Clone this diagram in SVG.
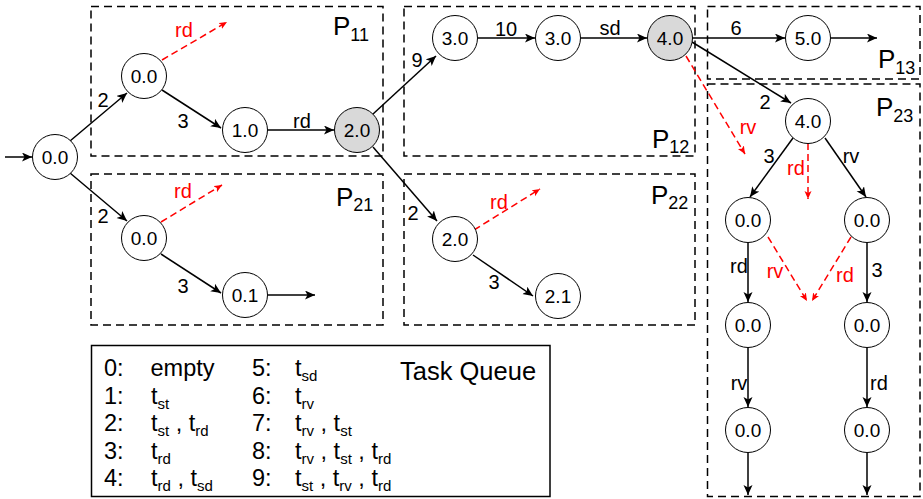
<svg xmlns="http://www.w3.org/2000/svg" width="923" height="499" viewBox="0 0 923 499">
<defs>
<marker id="ab" markerUnits="userSpaceOnUse" markerWidth="12" markerHeight="10" refX="10" refY="4.5" orient="auto">
<path d="M0,0 L10,4.5 L0,9 L2.5,4.5 Z" fill="#000"/>
</marker>
<marker id="ar" markerUnits="userSpaceOnUse" markerWidth="10" markerHeight="8" refX="8" refY="3.5" orient="auto">
<path d="M0,0 L8,3.5 L0,7 L2,3.5 Z" fill="#f00"/>
</marker>
<style>
text{font-family:"Liberation Sans",Arial,sans-serif;}
.box{fill:none;stroke:#000;stroke-width:1.5;stroke-dasharray:8 5;}
.nd circle{fill:#fff;stroke:#000;stroke-width:1;}
.nd.g circle{fill:#d9d9d9;}
.nd text{font-size:19px;text-anchor:middle;fill:#000;}
.e{stroke:#000;stroke-width:1.5;fill:none;marker-end:url(#ab);}
.r{stroke:#f00;stroke-width:1.5;fill:none;stroke-dasharray:7 4;marker-end:url(#ar);}
.lb{font-size:20px;text-anchor:middle;fill:#000;}
.lr{font-size:20px;text-anchor:middle;fill:#f00;}
.pl{font-size:26px;fill:#000;}
.ps{font-size:18px;}
.q{font-size:23.5px;fill:#000;}
.sub{font-size:15px;}
</style>
</defs>
<rect width="923" height="499" fill="#fff"/>

<g id="partitions">
<rect class="box" x="91" y="6.5" width="292" height="149.5"/>
<rect class="box" x="91" y="174" width="292" height="151"/>
<rect class="box" x="404" y="6.5" width="291" height="149.5"/>
<rect class="box" x="404" y="174" width="291" height="151"/>
<rect class="box" x="707.5" y="6.5" width="212.5" height="72.5"/>
<rect class="box" x="707.5" y="84" width="212.5" height="412.5"/>
<text class="pl" x="333" y="35">P<tspan class="ps" dy="6">11</tspan></text>
<text class="pl" x="336" y="206">P<tspan class="ps" dy="5">21</tspan></text>
<text class="pl" x="652" y="148">P<tspan class="ps" dy="5">12</tspan></text>
<text class="pl" x="651" y="204">P<tspan class="ps" dy="5">22</tspan></text>
<text class="pl" x="878" y="68">P<tspan class="ps" dy="6">13</tspan></text>
<text class="pl" x="876" y="116">P<tspan class="ps" dy="6">23</tspan></text>
</g>

<g id="connectors">
<line class="e" x1="5" y1="157" x2="32" y2="157"/>
<line class="e" x1="70" y1="141" x2="127" y2="93"/>
<line class="e" x1="70" y1="173" x2="127" y2="221"/>
<line class="e" x1="162" y1="90" x2="221" y2="128"/>
<line class="e" x1="268" y1="130" x2="334" y2="130"/>
<line class="e" x1="373" y1="114" x2="436" y2="56"/>
<line class="e" x1="373" y1="147" x2="437" y2="221"/>
<line class="e" x1="478" y1="38" x2="535" y2="38"/>
<line class="e" x1="581" y1="38" x2="647" y2="38"/>
<line class="e" x1="692" y1="38" x2="785" y2="38"/>
<line class="e" x1="831" y1="38" x2="877" y2="38"/>
<line class="e" x1="692" y1="42" x2="791" y2="103"/>
<line class="e" x1="793" y1="138" x2="750" y2="197"/>
<line class="e" x1="825" y1="138" x2="866" y2="197"/>
<line class="e" x1="748" y1="242.5" x2="748" y2="302"/>
<line class="e" x1="867" y1="242.5" x2="867" y2="302"/>
<line class="e" x1="748" y1="347.5" x2="748" y2="407"/>
<line class="e" x1="867" y1="347.5" x2="867" y2="407"/>
<line class="e" x1="748" y1="452.5" x2="748" y2="495"/>
<line class="e" x1="867" y1="452.5" x2="867" y2="495"/>
<line class="e" x1="161" y1="254" x2="221" y2="293"/>
<line class="e" x1="268" y1="295" x2="315" y2="295"/>
<line class="e" x1="473" y1="255" x2="533" y2="296"/>
<line class="r" x1="162" y1="60" x2="227" y2="22"/>
<line class="r" x1="161" y1="222" x2="222" y2="185"/>
<line class="r" x1="474" y1="230" x2="540" y2="189"/>
<line class="r" x1="686" y1="56" x2="745" y2="154"/>
<line class="r" x1="808" y1="143" x2="808" y2="199"/>
<line class="r" x1="768" y1="237" x2="807" y2="301"/>
<line class="r" x1="851" y1="237" x2="812" y2="301"/>
<text class="lb" x="103" y="107">2</text>
<text class="lb" x="183" y="128">3</text>
<text class="lb" x="302" y="128">rd</text>
<text class="lr" x="184" y="37">rd</text>
<text class="lb" x="103" y="223">2</text>
<text class="lb" x="183" y="293">3</text>
<text class="lr" x="183" y="198">rd</text>
<text class="lb" x="417" y="67">9</text>
<text class="lb" x="506" y="36">10</text>
<text class="lb" x="610" y="35">sd</text>
<text class="lb" x="736" y="35">6</text>
<text class="lb" x="765" y="109">2</text>
<text class="lr" x="748" y="134">rv</text>
<text class="lb" x="769" y="163">3</text>
<text class="lb" x="851" y="163">rv</text>
<text class="lr" x="796" y="175">rd</text>
<text class="lb" x="739" y="273">rd</text>
<text class="lr" x="775" y="278">rv</text>
<text class="lr" x="845" y="282">rd</text>
<text class="lb" x="877" y="277">3</text>
<text class="lb" x="739" y="390">rv</text>
<text class="lb" x="879" y="390">rd</text>
<text class="lb" x="413" y="220">2</text>
<text class="lb" x="494" y="289">3</text>
<text class="lr" x="499" y="209">rd</text>
</g>

<g id="n0" class="nd"><circle cx="55" cy="157" r="22.5"/><text x="55" y="164">0.0</text></g>
<g id="n11a" class="nd"><circle cx="144" cy="76" r="22.5"/><text x="144" y="83">0.0</text></g>
<g id="n11b" class="nd"><circle cx="245" cy="130" r="22.5"/><text x="245" y="137">1.0</text></g>
<g id="n11c" class="nd g"><circle cx="357" cy="130" r="22.5"/><text x="357" y="137">2.0</text></g>
<g id="n21a" class="nd"><circle cx="144" cy="238" r="22.5"/><text x="144" y="245">0.0</text></g>
<g id="n21b" class="nd"><circle cx="245" cy="295" r="22.5"/><text x="245" y="302">0.1</text></g>
<g id="n12a" class="nd"><circle cx="455" cy="38" r="22.5"/><text x="455" y="45">3.0</text></g>
<g id="n12b" class="nd"><circle cx="558" cy="38" r="22.5"/><text x="558" y="45">3.0</text></g>
<g id="n12c" class="nd g"><circle cx="670" cy="38" r="22.5"/><text x="670" y="45">4.0</text></g>
<g id="n13a" class="nd"><circle cx="808" cy="38" r="22.5"/><text x="808" y="45">5.0</text></g>
<g id="n22a" class="nd"><circle cx="455" cy="239" r="22.5"/><text x="455" y="246">2.0</text></g>
<g id="n22b" class="nd"><circle cx="558" cy="296" r="22.5"/><text x="558" y="303">2.1</text></g>
<g id="n23a" class="nd"><circle cx="808" cy="121" r="22.5"/><text x="808" y="128">4.0</text></g>
<g id="n23b" class="nd"><circle cx="748" cy="220" r="22.5"/><text x="748" y="227">0.0</text></g>
<g id="n23c" class="nd"><circle cx="867" cy="220" r="22.5"/><text x="867" y="227">0.0</text></g>
<g id="n23d" class="nd"><circle cx="748" cy="325" r="22.5"/><text x="748" y="332">0.0</text></g>
<g id="n23e" class="nd"><circle cx="867" cy="325" r="22.5"/><text x="867" y="332">0.0</text></g>
<g id="n23f" class="nd"><circle cx="748" cy="430" r="22.5"/><text x="748" y="437">0.0</text></g>
<g id="n23g" class="nd"><circle cx="867" cy="430" r="22.5"/><text x="867" y="437">0.0</text></g>

<g id="taskqueue">
<rect x="91.5" y="345.5" width="458.5" height="151" fill="none" stroke="#000" stroke-width="1.5"/>
<text class="q" x="400" y="380" style="font-size:25.5px">Task Queue</text>
<text class="q" x="104" y="376">0:</text>
<text class="q" x="104" y="403.6">1:</text>
<text class="q" x="104" y="431.2">2:</text>
<text class="q" x="104" y="458.8">3:</text>
<text class="q" x="104" y="486.4">4:</text>
<text class="q" x="150.5" y="376">empty</text>
<text class="q" x="151" y="403.6">t<tspan class="sub" dy="5">st</tspan></text>
<text class="q" x="151" y="431.2">t<tspan class="sub" dy="5">st</tspan><tspan dy="-5"> , t</tspan><tspan class="sub" dy="5">rd</tspan></text>
<text class="q" x="151" y="458.8">t<tspan class="sub" dy="5">rd</tspan></text>
<text class="q" x="151" y="486.4">t<tspan class="sub" dy="5">rd</tspan><tspan dy="-5"> , t</tspan><tspan class="sub" dy="5">sd</tspan></text>
<text class="q" x="252" y="376">5:</text>
<text class="q" x="252" y="403.6">6:</text>
<text class="q" x="252" y="431.2">7:</text>
<text class="q" x="252" y="458.8">8:</text>
<text class="q" x="252" y="486.4">9:</text>
<text class="q" x="295" y="376">t<tspan class="sub" dy="5">sd</tspan></text>
<text class="q" x="295" y="403.6">t<tspan class="sub" dy="5">rv</tspan></text>
<text class="q" x="295" y="431.2">t<tspan class="sub" dy="5">rv</tspan><tspan dy="-5"> , t</tspan><tspan class="sub" dy="5">st</tspan></text>
<text class="q" x="295" y="458.8">t<tspan class="sub" dy="5">rv</tspan><tspan dy="-5"> , t</tspan><tspan class="sub" dy="5">st</tspan><tspan dy="-5"> , t</tspan><tspan class="sub" dy="5">rd</tspan></text>
<text class="q" x="295" y="486.4">t<tspan class="sub" dy="5">st</tspan><tspan dy="-5"> , t</tspan><tspan class="sub" dy="5">rv</tspan><tspan dy="-5"> , t</tspan><tspan class="sub" dy="5">rd</tspan></text>
</g>
</svg>
